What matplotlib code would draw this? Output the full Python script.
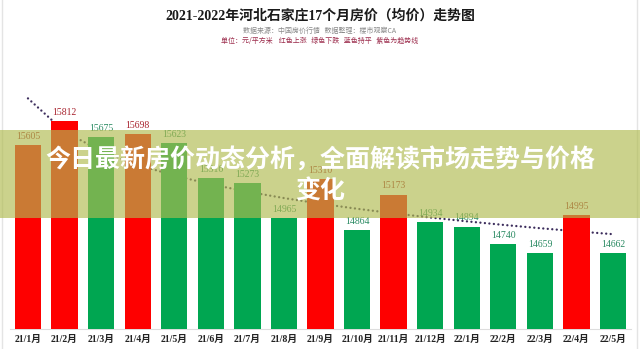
import matplotlib.pyplot as plt
import numpy as np
from matplotlib.patches import Rectangle
from matplotlib.lines import Line2D

# monthly average price, yuan per square metre
months = ['21/1月', '21/2月', '21/3月', '21/4月', '21/5月', '21/6月', '21/7月', '21/8月', '21/9月',
          '21/10月', '21/11月', '21/12月', '22/1月', '22/2月', '22/3月', '22/4月', '22/5月']
prices = [15605, 15812, 15675, 15698, 15623, 15316, 15273, 14965, 15310,
          14864, 15173, 14934, 14894, 14740, 14659, 14995, 14662]
rising = [1, 1, 0, 1, 0, 0, 0, 0, 1, 0, 1, 0, 0, 0, 0, 1, 0]

title = '2021-2022年河北石家庄17个月房价（均价）走势图'
source = '数据来源：中国房价行情   数据整理：楼市观察CA'
legend_note = '单位：元/平方米    红色上涨   绿色下跌   蓝色持平   紫色为趋势线'
banner = '今日最新房价动态分析，全面解读市场走势与价格\n变化'

RED, GREEN = '#fe0000', '#00a651'
RED_TXT, GREEN_TXT = '#a8232e', '#2a8a62'
serif_cjk = ['Liberation Serif', 'Noto Sans CJK SC']
sans_cjk = ['Noto Sans CJK SC', 'DejaVu Sans']

W, H = 640, 349
fig = plt.figure(figsize=(W / 100, H / 100), dpi=100)
fig.patch.set_facecolor('white')

ax = fig.add_axes([9.7 / W, (H - 329) / H, 621.6 / W, (329 - 54) / H])
x = np.arange(len(prices))
colors = [RED if r else GREEN for r in rising]
bars = ax.bar(x, prices, width=0.72, color=colors, zorder=3)

# logarithmic trend line (purple dots)
coef = np.polyfit(np.log(x + 1), prices, 1)
trend = np.polyval(coef, np.log(x + 1))
ax.plot(x, trend, color='#3c2d5c', lw=1.7, linestyle=(0, (0.01, 1.9)),
        dash_capstyle='round', zorder=2)

for xi, p, r in zip(x, prices, rising):
    ax.annotate(str(p), (xi, p), xytext=(0, 3), textcoords='offset points',
                ha='center', va='bottom', fontsize=7, family='Liberation Serif',
                color=RED_TXT if r else GREEN_TXT, zorder=4)

ax.set_xlim(-0.5, len(prices) - 0.5)
ax.set_ylim(14000, 16400)
ax.set_xticks(x, months, fontsize=7, family=serif_cjk, fontweight='bold', color='#222222')
ax.tick_params(axis='x', length=0, pad=4)
ax.set_yticks([])
for s in ['top', 'left', 'right']:
    ax.spines[s].set_visible(False)
ax.spines['bottom'].set_color('#dddddd')
ax.spines['bottom'].set_linewidth(0.8)

# headings
fig.text(320 / W, 1 - 16 / H, title, ha='center', va='center', fontsize=10,
         fontweight='bold', family=serif_cjk, color='#1a1a1a')
fig.text(320 / W, 1 - 31 / H, source, ha='center', va='center', fontsize=5,
         family=sans_cjk, color='#8a8a8a')
fig.text(320 / W, 1 - 41 / H, legend_note, ha='center', va='center', fontsize=5,
         family=sans_cjk, color='#9c2c4c')

# thin frame on the sides
fig.add_artist(Line2D([2 / W, 2 / W], [0, 1], color='#e4e4e4', lw=1, zorder=1))
fig.add_artist(Line2D([637 / W, 637 / W], [0, 1], color='#e4e4e4', lw=1, zorder=1))

# translucent banner across the chart
fig.add_artist(Rectangle((0, 1 - 218 / H), 1, 88 / H, transform=fig.transFigure,
                         facecolor='#b0bb50', alpha=0.66, edgecolor='none', zorder=10))
fig.text(320 / W, 1 - 175.5 / H, banner, ha='center', va='center', fontsize=18,
         fontweight='black', family=sans_cjk, color='white', linespacing=1.4,
         multialignment='center', zorder=11)

fig.savefig('out.png', dpi=100)
